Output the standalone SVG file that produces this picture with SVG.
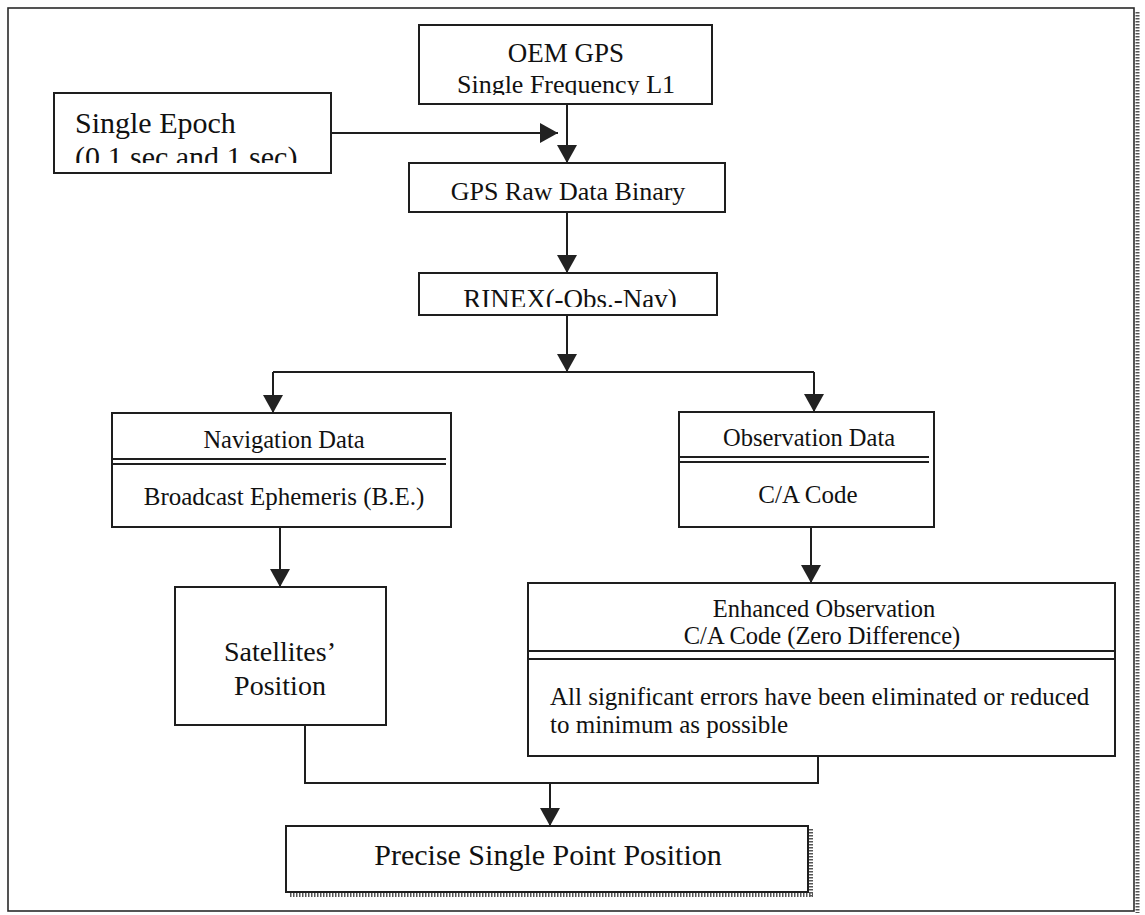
<svg xmlns="http://www.w3.org/2000/svg" width="1145" height="915" viewBox="0 0 1145 915">
<style>
.box{fill:#fff;stroke:#1e1e1e;stroke-width:2}
.ln{fill:none;stroke:#1e1e1e;stroke-width:2}
.dl{fill:none;stroke:#1e1e1e;stroke-width:1.8}
.t{font-family:"Liberation Serif","Times New Roman",serif;fill:#111}
.c{text-anchor:middle}
.shadow{fill:none;stroke:#555;stroke-width:4;stroke-dasharray:1.5 1.5}
</style>
<defs>
<marker id="ah" markerUnits="userSpaceOnUse" markerWidth="18" markerHeight="20" refX="18" refY="10" orient="auto">
<path d="M0,0 L18,10 L0,20 z" fill="#222"/>
</marker>
<clipPath id="clipOem"><rect x="419" y="25" width="293" height="70"/></clipPath>
<clipPath id="clipEpoch"><rect x="54" y="93" width="277" height="70"/></clipPath>
<clipPath id="clipRinex"><rect x="419" y="273" width="298" height="34"/></clipPath>
</defs>
<rect width="1145" height="915" fill="#fff"/>
<g id="frame">
<rect x="8" y="8" width="1126" height="903" fill="none" stroke="#2a2a2a" stroke-width="1.6"/>
<line class="shadow" x1="1137.5" y1="12" x2="1137.5" y2="913"/>
</g>
<g id="connectors">
<line class="ln" x1="331" y1="133" x2="558" y2="133" marker-end="url(#ah)"/>
<line class="ln" x1="567" y1="104" x2="567" y2="163" marker-end="url(#ah)"/>
<line class="ln" x1="567" y1="212" x2="567" y2="273" marker-end="url(#ah)"/>
<line class="ln" x1="567" y1="315" x2="567" y2="372" marker-end="url(#ah)"/>
<line class="ln" x1="273" y1="372" x2="814" y2="372"/>
<line class="ln" x1="273" y1="372" x2="273" y2="413" marker-end="url(#ah)"/>
<line class="ln" x1="814" y1="372" x2="814" y2="412" marker-end="url(#ah)"/>
<line class="ln" x1="280" y1="527" x2="280" y2="587" marker-end="url(#ah)"/>
<line class="ln" x1="811" y1="527" x2="811" y2="583" marker-end="url(#ah)"/>
<polyline class="ln" points="305,725 305,783 818,783 818,757"/>
<line class="ln" x1="550" y1="783" x2="550" y2="826" marker-end="url(#ah)"/>
</g>
<g id="oem">
<rect class="box" x="419" y="25" width="293" height="79"/>
<g clip-path="url(#clipOem)">
<text class="t c" x="566" y="62" font-size="27">OEM GPS</text>
<text class="t c" x="566" y="93" font-size="26">Single Frequency L1</text>
</g>
</g>
<g id="epoch">
<rect class="box" x="54" y="93" width="277" height="80"/>
<g clip-path="url(#clipEpoch)">
<text class="t" x="75" y="133" font-size="30">Single Epoch</text>
<text class="t" x="75" y="167" font-size="30">(0.1 sec and 1 sec)</text>
</g>
</g>
<g id="raw">
<rect class="box" x="409" y="163" width="316" height="49"/>
<text class="t c" x="568" y="200" font-size="26">GPS Raw Data Binary</text>
</g>
<g id="rinex">
<rect class="box" x="419" y="273" width="298" height="42"/>
<g clip-path="url(#clipRinex)">
<text class="t c" x="570" y="308" font-size="27">RINEX(-Obs.-Nav)</text>
</g>
</g>
<g id="nav">
<rect class="box" x="112" y="413" width="339" height="114"/>
<line class="dl" x1="113" y1="459" x2="446" y2="459"/>
<line class="dl" x1="113" y1="464" x2="446" y2="464"/>
<text class="t c" x="284" y="448" font-size="24.5">Navigation Data</text>
<text class="t c" x="284" y="505" font-size="25">Broadcast Ephemeris (B.E.)</text>
</g>
<g id="obs">
<rect class="box" x="679" y="412" width="255" height="115"/>
<line class="dl" x1="680" y1="457" x2="929" y2="457"/>
<line class="dl" x1="680" y1="462" x2="929" y2="462"/>
<text class="t c" x="809" y="446" font-size="24.5">Observation Data</text>
<text class="t c" x="808" y="503" font-size="25">C/A Code</text>
</g>
<g id="sat">
<rect class="box" x="175" y="587" width="211" height="138"/>
<text class="t c" x="280" y="661" font-size="28">Satellites’</text>
<text class="t c" x="280" y="695" font-size="28">Position</text>
</g>
<g id="enh">
<rect class="box" x="528" y="583" width="587" height="173"/>
<line class="dl" x1="528" y1="651" x2="1115" y2="651"/>
<line class="dl" x1="528" y1="659" x2="1115" y2="659"/>
<text class="t c" x="824" y="617" font-size="24.5">Enhanced Observation</text>
<text class="t c" x="822" y="644" font-size="24.5">C/A Code (Zero Difference)</text>
<text class="t" x="550" y="705" font-size="25">All significant errors have been eliminated or reduced</text>
<text class="t" x="550" y="733" font-size="25">to minimum as possible</text>
</g>
<g id="pspp">
<rect class="box" x="286" y="826" width="522" height="66"/>
<line class="shadow" x1="811" y1="829" x2="811" y2="897"/>
<line class="shadow" x1="290" y1="895" x2="813" y2="895"/>
<text class="t c" x="548" y="865" font-size="30">Precise Single Point Position</text>
</g>
</svg>
